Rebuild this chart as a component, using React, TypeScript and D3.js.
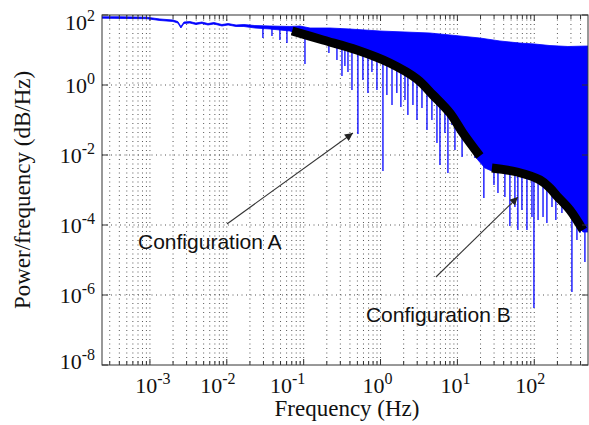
import React from 'react';
import * as d3 from 'd3';

// ---- tick exponents ----
const xTickExps = [-3, -2, -1, 0, 1, 2];
const yTickExps = [2, 0, -2, -4, -6, -8];

// ---- upper envelope of the PSD (Hz, power) ----
const topFreq = [2.38e-4, 4.07e-4, 9.14e-4, 1.35e-3, 1.99e-3, 2.31e-3, 2.53e-3, 2.77e-3, 3.31e-3, 3.96e-3,
  4.74e-3, 5.69e-3, 6.81e-3, 8.65e-3, 1.04e-2, 1.32e-2, 1.67e-2, 2.32e-2, 3.64e-2, 6.62e-2,
  8.94e-2, 0.121, 0.22, 0.4, 0.98, 2.08, 4.39, 9.29, 19.6, 35.7, 65, 102, 160, 274, 499];
const topPower = [89, 89, 86.5, 76.9, 72, 65, 47, 63, 65, 59,
  63, 57, 61, 53.5, 57, 51.8, 53.5, 50, 48.5, 47,
  48.5, 42.5, 42.5, 39.8, 34.9, 32.7, 30.6, 26, 22, 18.1, 15.8, 14.8, 13.4, 12.6, 13];

// ---- lower edge of the dense band ----
const bottomFreq = [2.38e-4, 9.14e-4, 1.35e-3, 1.99e-3, 2.31e-3, 2.53e-3, 2.77e-3, 3.31e-3, 3.96e-3, 4.74e-3,
  5.69e-3, 6.81e-3, 8.65e-3, 1.04e-2, 1.32e-2, 1.67e-2, 2.32e-2, 3.64e-2, 6.62e-2, 0.178,
  0.493, 1.32, 2.98, 4.81, 8.0, 11.8, 18.5, 22.8, 28.1, 59.6, 119, 197, 291, 430, 499];
const bottomPower = [81, 78.3, 69.6, 65.2, 59, 42.5, 57.2, 59, 53.5, 57.2,
  51.8, 55.3, 48.5, 51.8, 46.9, 46.9, 42.5, 39.8, 34.9, 16.9,
  8.2, 3.49, 1.3, 0.454, 0.122, 0.0327, 0.0072, 0.00425, 0.00349, 0.00268, 0.00158, 0.00055, 0.00022, 6.3e-5, 6.3e-5];

// ---- downward spikes (Hz, lowest power reached) ----
const spikeFreq = [0.0295, 0.0387, 0.0491, 0.0606, 0.104, 0.213, 0.271, 0.315, 0.344, 0.377,
  0.425, 0.508, 0.59, 0.686, 0.773, 0.898, 1.075, 1.21, 1.41, 1.63,
  1.84, 2.08, 2.27, 2.64, 2.98, 3.46, 4.02, 4.66, 5.42, 5.93,
  6.88, 7.53, 8.49, 9.29, 11.5, 14.6, 16.9, 22.1, 29.9, 33.7,
  41.5, 48.2, 56.0, 61.2, 69.1, 80.3, 93.3, 99.0, 112, 130,
  146, 170, 191, 229, 251, 309, 359, 393, 456];
const spikePower = [22.0, 25.1, 19.3, 15.8, 3.98, 8.2, 5.18, 1.81, 3.49, 2.35,
  0.72, 0.0398, 1.39, 0.59, 2.35, 0.72, 0.00349, 0.518, 0.268, 0.59,
  0.235, 0.373, 0.139, 0.268, 0.1, 0.22, 0.0518, 0.1, 0.022, 0.00518,
  0.0425, 0.00306, 0.072, 0.0139, 0.00877, 0.0518, 0.0082, 0.00059, 0.00139, 0.00082,
  0.00063, 9.36e-5, 3.27e-4, 7.2e-5, 2.68e-4, 7.2e-5, 1.69e-4, 4.25e-7, 1.39e-4, 1.69e-4,
  1.14e-4, 3.27e-4, 1.39e-4, 2.2e-4, 3.27e-4, 1.22e-6, 3.73e-5, 5.9e-5, 8.77e-6];

// ---- fitted curves ----
const fitAFreq = [0.0708, 0.178, 0.493, 1.32, 2.98, 4.81, 8.0, 11.8, 19.6];
const fitAPower = [34.9, 19.3, 10, 4.25, 1.48, 0.518, 0.158, 0.0425, 0.00936];
const fitBFreq = [28.1, 59.6, 119, 160, 197, 291, 430];
const fitBPower = [0.00425, 0.00327, 0.00193, 0.00114, 0.000674, 0.000268, 7.2e-5];

// ---- annotations ----
const annotLabels = ['Configuration A', 'Configuration B'];
const annotTextAt = [[7.0e-4, 2.06e-5], [0.646, 1.69e-7]];
const arrowFrom = [[0.01005, 1.07e-4], [5.26, 3.27e-6]];
const arrowTo = [[0.4375, 0.0425], [61.2, 6.3e-4]];

const W = 589, H = 425;
const L = 102, T = 15, R = 588, B = 365;
const xLabelNudge: Record<number, number> = { [-3]: 3, [-2]: -9, [-1]: -16, 0: -3, 1: -2, 2: -4 };

export default function App() {
  const x = d3.scaleLog().domain([2.38e-4, 500]).range([L, R]);
  const y = d3.scaleLog().domain([1e-8, 1e2]).range([B, T]);

  const gridX = x.ticks().filter(v => x(v) > L + 0.5 && x(v) < R - 0.5);
  const majorX = xTickExps.map(e => Math.pow(10, e));
  const majorY = yTickExps.map(e => Math.pow(10, e));

  const line = d3.line<[number, number]>().x(d => d[0]).y(d => d[1]);
  const smooth = d3.line<[number, number]>().x(d => d[0]).y(d => d[1]).curve(d3.curveCatmullRom.alpha(0.5));
  const topPts: [number, number][] = topFreq.map((f, i) => [x(f), y(topPower[i])]);
  const botPts: [number, number][] = bottomFreq.map((f, i) => [x(f), y(bottomPower[i])]).reverse() as [number, number][];
  const bandPath = line([...topPts, ...botPts]) + 'Z';

  const bottomY = d3.scaleLog().domain(bottomFreq).range(bottomFreq.map((f, i) => y(bottomPower[i])));

  const fitA = smooth(fitAFreq.map((f, i) => [x(f), y(fitAPower[i])] as [number, number]));
  const fitB = smooth(fitBFreq.map((f, i) => [x(f), y(fitBPower[i])] as [number, number]));

  const serif = '"Liberation Serif", "Times New Roman", serif';
  const sans = '"Liberation Sans", Arial, sans-serif';

  return (
    <svg width={W} height={H} style={{ position: 'absolute', left: 0, top: 0, background: '#fff' }}>
      <defs>
        <clipPath id="plotClip">
          <rect x={L} y={T} width={R - L} height={B - T} />
        </clipPath>
        <marker id="arrow" viewBox="0 0 10 10" refX="10" refY="5" markerWidth="10" markerHeight="8"
          markerUnits="userSpaceOnUse" orient="auto">
          <path d="M0,0 L10,5 L0,10 Z" fill="#222" />
        </marker>
      </defs>
      <rect x={0} y={0} width={W} height={H} fill="#fff" />

      {/* grid */}
      <g stroke="#555" strokeWidth={1} strokeDasharray="1,3.5">
        {gridX.map((v, i) => (
          <line key={'gx' + i} x1={x(v)} x2={x(v)} y1={T} y2={B} />
        ))}
        {majorY.filter(v => y(v) > T + 1 && y(v) < B - 1).map((v, i) => (
          <line key={'gy' + i} x1={L} x2={R} y1={y(v)} y2={y(v)} />
        ))}
      </g>

      {/* PSD */}
      <g clipPath="url(#plotClip)">
        <g stroke="#0000ff" strokeWidth={1.3}>
          {spikeFreq.map((f, i) => (
            <line key={'s' + i} x1={x(f)} x2={x(f)} y1={bottomY(f) - 2} y2={y(spikePower[i])} />
          ))}
        </g>
        <path d={bandPath} fill="#0000ff" stroke="#0000ff" strokeWidth={0.8} strokeLinejoin="round" />
        <path d={fitA ?? ''} fill="none" stroke="#000" strokeWidth={9} strokeLinecap="butt" strokeLinejoin="round" />
        <path d={fitB ?? ''} fill="none" stroke="#000" strokeWidth={9} strokeLinecap="butt" strokeLinejoin="round" />
      </g>

      {/* axes box and ticks */}
      <rect x={L} y={T} width={R - L} height={B - T} fill="none" stroke="#333" strokeWidth={1} />
      <g stroke="#333" strokeWidth={1}>
        {gridX.map((v, i) => {
          const major = majorX.some(m => Math.abs(m - v) / m < 1e-6);
          const len = major ? 6 : 4;
          return (
            <g key={'tx' + i}>
              <line x1={x(v)} x2={x(v)} y1={B} y2={B - len} />
              <line x1={x(v)} x2={x(v)} y1={T} y2={T + len} />
            </g>
          );
        })}
        {majorY.map((v, i) => (
          <g key={'ty' + i}>
            <line x1={L} x2={L + 6} y1={y(v)} y2={y(v)} />
            <line x1={R} x2={R - 6} y1={y(v)} y2={y(v)} />
          </g>
        ))}
      </g>

      {/* tick labels */}
      <g fontFamily={serif} fill="#111">
        {xTickExps.map((e, i) => (
          <text key={'xl' + i} x={x(Math.pow(10, e)) + (xLabelNudge[e] ?? 0)} y={393} fontSize={22} textAnchor="middle">
            10<tspan fontSize={16} dy={-9}>{String(e)}</tspan>
          </text>
        ))}
        {yTickExps.map((e, i) => {
          const yy = y(Math.pow(10, e));
          const base = Math.min(Math.max(yy + 8, T + 15), B + 4);
          return (
            <text key={'yl' + i} x={95} y={base} fontSize={22} textAnchor="end">
              10<tspan fontSize={16} dy={-9}>{String(e)}</tspan>
            </text>
          );
        })}
      </g>

      {/* axis labels */}
      <text x={347} y={416} fontFamily={serif} fontSize={23} textAnchor="middle" fill="#111">Frequency  (Hz)</text>
      <text transform="translate(30,190) rotate(-90)" fontFamily={serif} fontSize={23} textAnchor="middle" fill="#111">
        Power/frequency (dB/Hz)
      </text>

      {/* annotations */}
      {arrowFrom.map((a, i) => (
        <line key={'ar' + i} x1={x(a[0])} y1={y(a[1])} x2={x(arrowTo[i][0])} y2={y(arrowTo[i][1])}
          stroke="#333" strokeWidth={1.1} markerEnd="url(#arrow)" />
      ))}
      {annotLabels.map((t, i) => (
        <text key={'an' + i} x={x(annotTextAt[i][0])} y={y(annotTextAt[i][1])} fontFamily={sans} fontSize={21} fill="#111">
          {t}
        </text>
      ))}
    </svg>
  );
}
